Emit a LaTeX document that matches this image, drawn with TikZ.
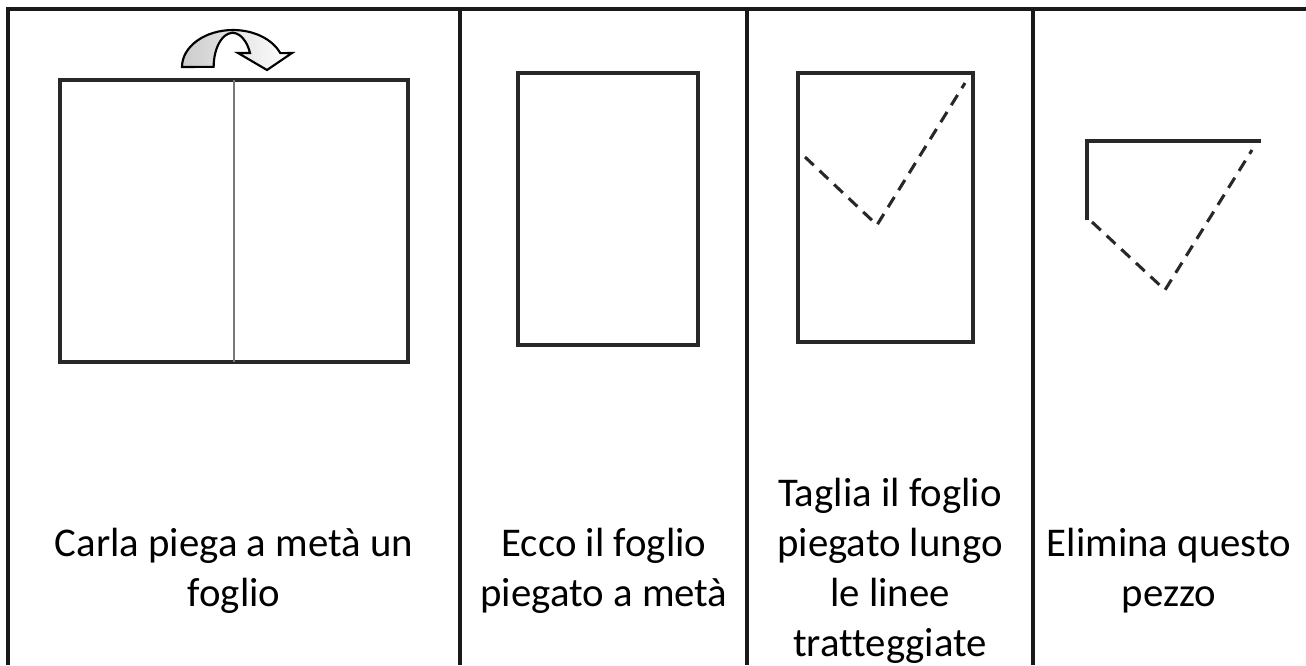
\documentclass[tikz,border=0pt]{standalone}
\usepackage{fontspec}
\setmainfont{Carlito}[Ligatures=NoCommon]
\usepackage{tikz}
\usetikzlibrary{positioning, calc}
\definecolor{mygray}{RGB}{40,40,40}
\definecolor{foldgray}{RGB}{120,120,120}

\begin{document}
\begin{tikzpicture}[x=0.75pt, y=-0.75pt,
    rule/.style={line width=2.4pt, draw=black!90},
    sheet/.style={line width=2.4pt, draw=mygray},
    cutline/.style={line width=2.3pt, draw=mygray, dash pattern=on 9pt off 6pt},
    caption/.style={font=\fontsize{30.6}{37.5}\selectfont, align=center, inner sep=0pt}]
    \useasboundingbox (0,0) rectangle (1306,665);

    % Table frame
    \draw[rule] (8,665) -- (8,9) -- (1306,9);
    \foreach \xc in {460,747,1033}
        \draw[rule] (\xc,9) -- (\xc,665);

    % Panel 1: the whole sheet with the fold
    \draw[sheet] (60,80) rectangle (408,362);
    \draw[line width=1.2pt, foldgray] (234,80) -- (234,362);
    \draw[line width=1.6pt, draw=black, left color=gray!40, right color=white]
        (182,67) arc[start angle=180, end angle=338, x radius=51, y radius=37]
        -- (292,53) -- (267,70) -- (238,53) -- (250,53)
        arc[start angle=336, end angle=180, x radius=19, y radius=34]
        -- cycle;

    % Panel 2: folded sheet
    \draw[sheet] (518,73) rectangle (698,345);

    % Panel 3: folded sheet with the cut
    \draw[sheet] (798,73) rectangle (973,342);
    \draw[cutline] (805,157) -- (877,225) -- (965,83);

    % Panel 4: the piece to remove
    \draw[sheet] (1087,220) -- (1087,141) -- (1261,141);
    \draw[cutline] (1092,222) -- (1165,290) -- (1252,150);

    % Captions
    \node[caption] (capA) at (234,571) {Carla piega a metà un\\foglio};
    \node[caption] (capB) at (604,571) {Ecco il foglio\\piegato a metà};
    \node[caption] (capC) at (890,571) {Taglia il foglio\\piegato lungo\\le linee\\tratteggiate};
    \node[caption] (capD) at (1169,571) {Elimina questo\\pezzo};
\end{tikzpicture}
\end{document}
